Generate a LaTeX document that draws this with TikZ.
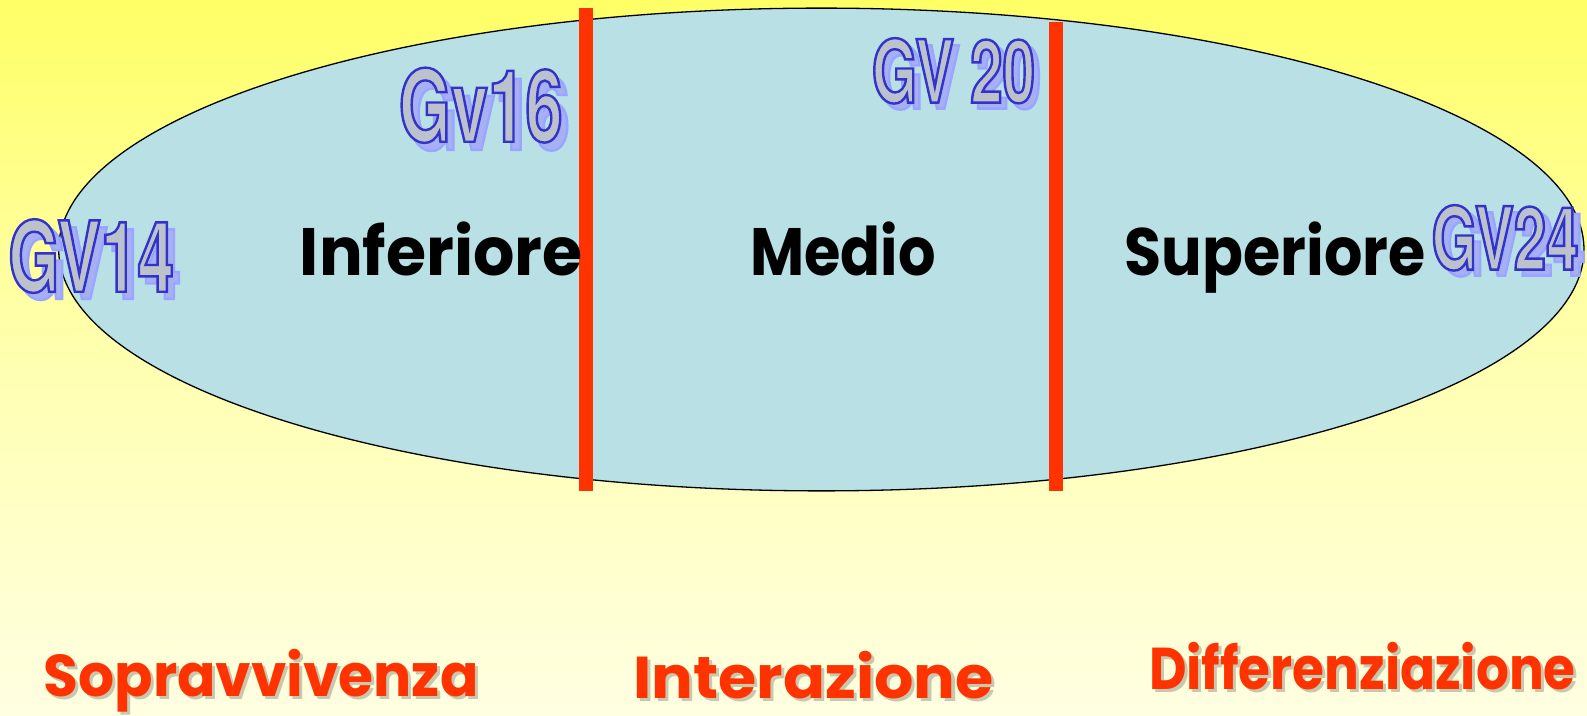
\documentclass[tikz,border=0pt]{standalone}
\usepackage{fontspec}
\setmainfont{Poppins}
\newfontfamily\gvfont[FakeStretch=0.67]{TeX Gyre Heros}
\definecolor{bgtop}{HTML}{FFFF66}
\definecolor{bgbot}{HTML}{FFFFE2}
\definecolor{ellfill}{HTML}{B9E0E4}
\definecolor{redbar}{HTML}{FF3300}
\definecolor{gvfill}{HTML}{BCC2CC}
\definecolor{gvshadow}{HTML}{A8B0F4}
\definecolor{lblshadow}{HTML}{C8C8B0}
\newcommand\strokedtext[3]{{\special{pdf:literal direct 2 Tr #2 w #1 RG}#3\special{pdf:literal direct 0 Tr}}}
\newcommand\gvmain[1]{{\color{gvfill}\strokedtext{0.2 0.2 0.8}{2.4}{#1}}}
\newcommand\gvshade[1]{{\color{gvshadow}\strokedtext{0.6 0.65 1}{2.4}{#1}}}
\tikzset{
  gvlabel/.style={inner sep=0pt, font=\gvfont\bfseries\fontsize{#1}{#1}\selectfont},
  zone/.style={inner sep=0pt, anchor=base, font=\bfseries\fontsize{67}{67}\selectfont, text=black},
  phase/.style={inner sep=0pt, anchor=base, font=\bfseries\fontsize{59}{59}\selectfont, text=redbar},
  phaseshadow/.style={inner sep=0pt, anchor=base, font=\bfseries\fontsize{59}{59}\selectfont, text=lblshadow},
  bar/.style={fill=redbar, draw=none}
}
\begin{document}
\begin{tikzpicture}[x=1.0121pt,y=-1.0121pt]
\useasboundingbox (0,0) rectangle (1568,706.45);
\shade[top color=bgtop, bottom color=bgbot, middle color=bgtop!40!bgbot] (0,0) rectangle (1568,706.45);
\draw[fill=ellfill, line width=1.3pt] (811.5,246.5) ellipse [x radius=753.5, y radius=238.5];
\fill[bar] (572,8) rectangle (586,485);
\fill[bar] (1036,22) rectangle (1050,485);
% zone labels
\node[zone] (inf) at (436,272) {\scalebox{0.97}[1]{Inferiore}};
\node[zone] (med) at (833,272) {\scalebox{0.88}[1]{Medio}};
\node[zone] (sup) at (1260,272) {\scalebox{0.9}[1]{Superiore}};
% phase labels
\node[phaseshadow] (sopS) at (261,691) {\scalebox{0.96}[1]{Sopravvivenza}};
\node[phase] (sop) at (258,688) {\scalebox{0.96}[1]{Sopravvivenza}};
\node[phaseshadow] (intS) at (807,693) {\scalebox{1.05}[1]{Interazione}};
\node[phase] (int) at (804,690) {\scalebox{1.05}[1]{Interazione}};
\node[phaseshadow] (difS) at (1349,684) {\scalebox{0.875}[1]{Differenziazione}};
\node[phase] (dif) at (1346,681) {\scalebox{0.875}[1]{Differenziazione}};
% GV labels
\node[gvlabel=98] (gv14s) at (97,260) {\gvshade{GV14}};
\node[gvlabel=98] (gv14) at (90,253) {\gvmain{GV14}};
\node[gvlabel=100] (gv16s) at (482,112) {\gvshade{Gv16}};
\node[gvlabel=100] (gv16) at (475,104) {\gvmain{Gv16}};
\node[gvlabel=87] (gv20s) at (948,76) {\gvshade{GV 20}};
\node[gvlabel=87] (gv20) at (942,70) {\gvmain{GV 20}};
\node[gvlabel=87] (gv24s) at (1494,241) {\gvshade{GV24}};
\node[gvlabel=87] (gv24) at (1487,235) {\gvmain{GV24}};
\end{tikzpicture}
\end{document}
